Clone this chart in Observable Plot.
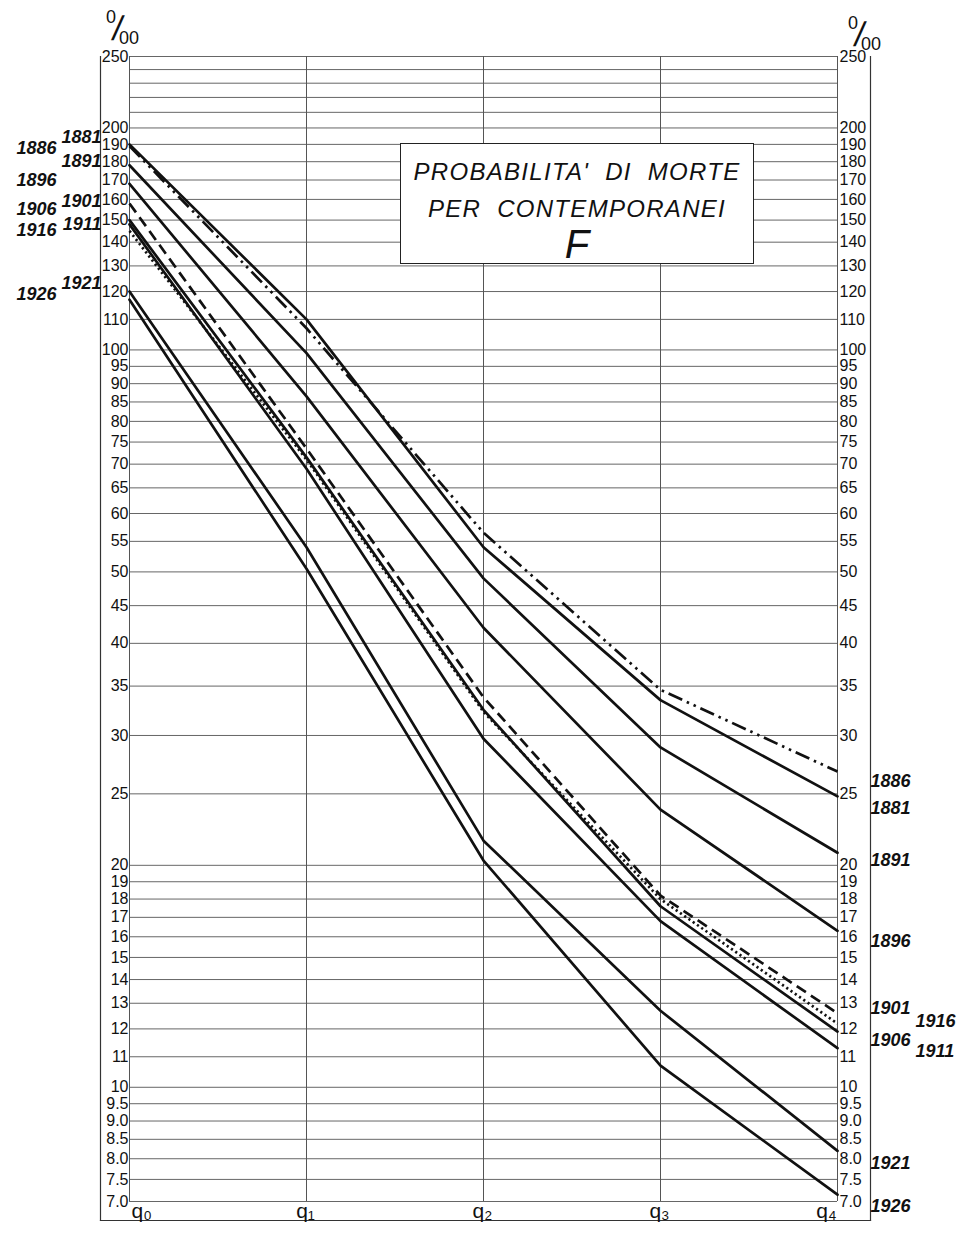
<!DOCTYPE html>
<html>
<head>
<meta charset="utf-8">
<script src="https://cdn.jsdelivr.net/npm/d3@7"></script>
<script src="https://cdn.jsdelivr.net/npm/@observablehq/plot@0.6"></script>
<style>
  html, body { margin: 0; padding: 0; background: #fff; }
  #wrap { position: relative; width: 957px; height: 1233px; overflow: hidden; }
  #wrap svg { position: absolute; left: 0; top: 0; }
  .permille { position: absolute; font-family: "Liberation Sans", sans-serif; color: #111; }
  .permille .a { position: absolute; font-size: 18px; }
  .permille .s { position: absolute; font-size: 34px; font-weight: 300; transform: skewX(-10deg); }
  .permille .b { position: absolute; font-size: 18px; }
  #titlebox { position: absolute; left: 400px; top: 143px; width: 354px; height: 121px;
    border: 1.5px solid #222; background: #fff; box-sizing: border-box;
    font-family: "Liberation Sans", sans-serif; font-style: italic; color: #111; text-align: center; }
  #titlebox .l1 { position: absolute; left: 0; right: 0; top: 14px; font-size: 24px; letter-spacing: 1.3px; word-spacing: 8px; }
  #titlebox .l2 { position: absolute; left: 0; right: 0; top: 51px; font-size: 24px; letter-spacing: 1.3px; word-spacing: 8px; }
  #titlebox .l3 { position: absolute; left: 0; right: 0; top: 78px; font-size: 40px; }
</style>
</head>
<body>
<div id="wrap">
  <div class="permille" style="left:104px; top:6px; width:34px; height:44px;">
    <span class="a" style="left:2px; top:1px;">0</span>
    <span class="s" style="left:9px; top:3px;">/</span>
    <span class="b" style="left:15px; top:22px;">00</span>
  </div>
  <div class="permille" style="left:846px; top:12px; width:34px; height:44px;">
    <span class="a" style="left:2px; top:1px;">0</span>
    <span class="s" style="left:9px; top:3px;">/</span>
    <span class="b" style="left:15px; top:22px;">00</span>
  </div>
</div>
<script>
// ---- data ----
const steps = ["q0", "q1", "q2", "q3", "q4"];
const stepLabels = ["q₀", "q₁", "q₂", "q₃", "q₄"];
const cohorts = ["1881", "1886", "1891", "1896", "1901", "1906", "1911", "1916", "1921", "1926"];

const p1881 = [190, 110, 54, 33.5, 24.8];
const p1886 = [189, 107, 56.5, 34.6, 26.8];
const p1891 = [178, 99, 49, 28.9, 20.8];
const p1896 = [168, 86.5, 42, 23.8, 16.3];
const p1901 = [158, 73.5, 33.8, 18.2, 12.6];
const p1906 = [150, 71.5, 32.5, 17.6, 11.9];
const p1911 = [148, 69, 29.7, 16.8, 11.3];
const p1916 = [145, 71, 32.3, 18.0, 12.2];
const p1921 = [120, 54, 21.6, 12.7, 8.2];
const p1926 = [117, 50.5, 20.3, 10.7, 7.15];

const gridValues = [250, 240, 230, 220, 210, 200, 190, 180, 170, 160, 150, 140, 130, 120, 110,
  100, 95, 90, 85, 80, 75, 70, 65, 60, 55, 50, 45, 40, 35, 30, 25,
  20, 19, 18, 17, 16, 15, 14, 13, 12, 11, 10, 9.5, 9, 8.5, 8, 7.5, 7];
const tickLabels = [250, 200, 190, 180, 170, 160, 150, 140, 130, 120, 110,
  100, 95, 90, 85, 80, 75, 70, 65, 60, 55, 50, 45, 40, 35, 30, 25,
  20, 19, 18, 17, 16, 15, 14, 13, 12, 11, 10, 9.5, 9, 8.5, 8, 7.5, 7];

// label anchors (value level where each cohort name is written)
const leftInner = [["1881", 194], ["1891", 180], ["1901", 159], ["1911", 148], ["1921", 123]];
const leftOuter = [["1886", 188], ["1896", 170], ["1906", 155], ["1916", 145.5], ["1926", 119]];
const rightInner = [["1886", 26.0], ["1881", 23.9], ["1891", 20.3], ["1896", 15.8], ["1901", 12.8], ["1906", 11.6], ["1921", 7.9], ["1926", 6.9]];
const rightOuter = [["1916", 12.3], ["1911", 11.2]];

// ---- build ----
const series = {"1881": p1881, "1886": p1886, "1891": p1891, "1896": p1896, "1901": p1901,
  "1906": p1906, "1911": p1911, "1916": p1916, "1921": p1921, "1926": p1926};
const rows = cohorts.flatMap(c => steps.map((s, i) => ({cohort: c, step: s, value: series[c][i]})));
const dash = {"1886": "15,5,2.5,5,2.5,5", "1901": "11,6", "1916": "2.2,3"};

const fmt = v => v >= 10 ? String(v) : v.toFixed(1);
const ink = "#111";
const gridInk = "#555";
const labFont = "Liberation Sans, sans-serif";
const cohortFont = "Liberation Sans, sans-serif";

const lineMarks = cohorts.map(c => Plot.line(rows.filter(d => d.cohort === c), {
  x: "step", y: "value", stroke: ink, strokeWidth: 2.7,
  strokeDasharray: dash[c] || null, strokeLinejoin: "round", strokeLinecap: dash[c] ? "butt" : "round"
}));

const cohortText = (arr, anchorStep, dx, anchor) => Plot.text(arr, {
  x: () => anchorStep, y: d => d[1], text: d => d[0], dx, textAnchor: anchor,
  fontSize: 18, fontWeight: "bold", fontStyle: "italic", fontFamily: cohortFont, fill: ink
});

const stepIdx = s => steps.indexOf(s);
const stepText = (subset, dx, anchor) => Plot.text(subset, {
  x: d => d, y: () => 7, text: d => stepLabels[stepIdx(d)], dy: 10, dx, textAnchor: anchor,
  fontSize: 21, fontFamily: labFont, fill: ink
});

const chart = Plot.plot({
  width: 957, height: 1233,
  marginLeft: 100, marginRight: 87, marginTop: 56, marginBottom: 13,
  insetLeft: 28, insetRight: 32, insetBottom: 19, insetTop: 0,
  style: {background: "transparent", overflow: "visible"},
  x: {type: "point", domain: steps, padding: 0, axis: null},
  y: {type: "log", domain: [7, 250], axis: null},
  marks: [
    Plot.frame({anchor: "left", stroke: "#333", strokeWidth: 1.2}),
    Plot.frame({anchor: "right", stroke: "#333", strokeWidth: 1.2}),
    Plot.frame({anchor: "bottom", stroke: "#333", strokeWidth: 1.2}),
    Plot.ruleY(gridValues, {y: d => d, x1: () => "q0", x2: () => "q4", stroke: gridInk, strokeWidth: 0.9}),
    Plot.ruleX(steps, {x: d => d, y1: () => 7, y2: () => 250, stroke: gridInk, strokeWidth: 1}),
    ...lineMarks,
    Plot.text(tickLabels, {x: () => "q0", y: d => d, text: fmt, textAnchor: "end", dx: -1,
      fontSize: 16, fontFamily: labFont, fill: ink}),
    Plot.text(tickLabels, {x: () => "q4", y: d => d, text: fmt, textAnchor: "start", dx: 2,
      fontSize: 16, fontFamily: labFont, fill: ink}),
    stepText(["q0"], 2, "start"),
    stepText(["q1", "q2", "q3"], -1, "middle"),
    stepText(["q4"], -1, "end"),
    cohortText(leftInner, "q0", -28, "end"),
    cohortText(leftOuter, "q0", -73, "end"),
    cohortText(rightInner, "q4", 33, "start"),
    cohortText(rightOuter, "q4", 78, "start")
  ]
});

const wrap = document.getElementById("wrap");
wrap.insertBefore(chart, wrap.firstChild);

const box = document.createElement("div");
box.id = "titlebox";
box.innerHTML = '<div class="l1">PROBABILITA\' DI MORTE</div><div class="l2">PER CONTEMPORANEI</div><div class="l3">F</div>';
wrap.appendChild(box);
</script>
</body>
</html>
